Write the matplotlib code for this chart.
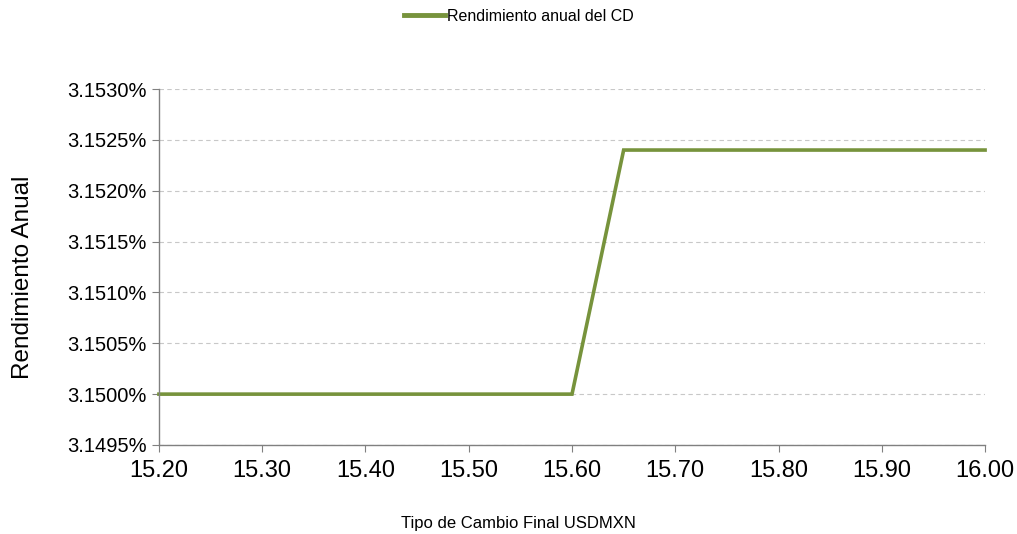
import matplotlib.pyplot as plt
import numpy as np
from matplotlib.ticker import FuncFormatter, MultipleLocator

plt.rcParams['font.family'] = ['Liberation Sans', 'DejaVu Sans']

tipo_cambio = [15.20, 15.25, 15.30, 15.35, 15.40, 15.45, 15.50, 15.55, 15.60,
               15.65, 15.70, 15.75, 15.80, 15.85, 15.90, 15.95, 16.00]
rendimiento = [3.1500] * 9 + [3.1524] * 8
serie = 'Rendimiento anual del CD'

fig = plt.figure(figsize=(10.17, 5.34), dpi=100)
ax = fig.add_axes([0.1563, 0.1667, 0.8123, 0.6666])

ax.plot(tipo_cambio, rendimiento, color='#77933C', lw=2.6, label=serie,
        solid_joinstyle='miter', clip_on=False)

ax.set_xlim(15.20, 16.00)
ax.set_ylim(3.1495, 3.1530)
ax.xaxis.set_major_locator(MultipleLocator(0.1))
ax.yaxis.set_major_locator(MultipleLocator(0.0005))
ax.xaxis.set_major_formatter(FuncFormatter(lambda v, p: f'{v:.2f}'))
ax.yaxis.set_major_formatter(FuncFormatter(lambda v, p: f'{v:.4f}%'))

ax.grid(axis='y', color='#C8C8C8', ls=(0, (4, 3)), lw=0.8)
ax.set_axisbelow(True)
for s in ['top', 'right']:
    ax.spines[s].set_visible(False)
for s in ['left', 'bottom']:
    ax.spines[s].set_color('#808080')
    ax.spines[s].set_linewidth(1)
ax.tick_params(axis='both', direction='out', color='#808080', length=5)
ax.tick_params(axis='x', labelsize=17, pad=6)
ax.tick_params(axis='y', labelsize=14.5, pad=4)

ax.set_ylabel('Rendimiento Anual', fontsize=17.5)
ax.yaxis.set_label_coords(-0.151, 0.47)
fig.text(0.51, 0.005, 'Tipo de Cambio Final USDMXN', fontsize=12,
         ha='center', va='bottom')

fig.legend(loc='upper center', bbox_to_anchor=(0.51, 1.01), frameon=False,
           fontsize=11.5, handlelength=2.6, handletextpad=0.1)
for h in fig.legends[0].get_lines():
    h.set_linewidth(3.5)

fig.savefig('out.png', dpi=100)
